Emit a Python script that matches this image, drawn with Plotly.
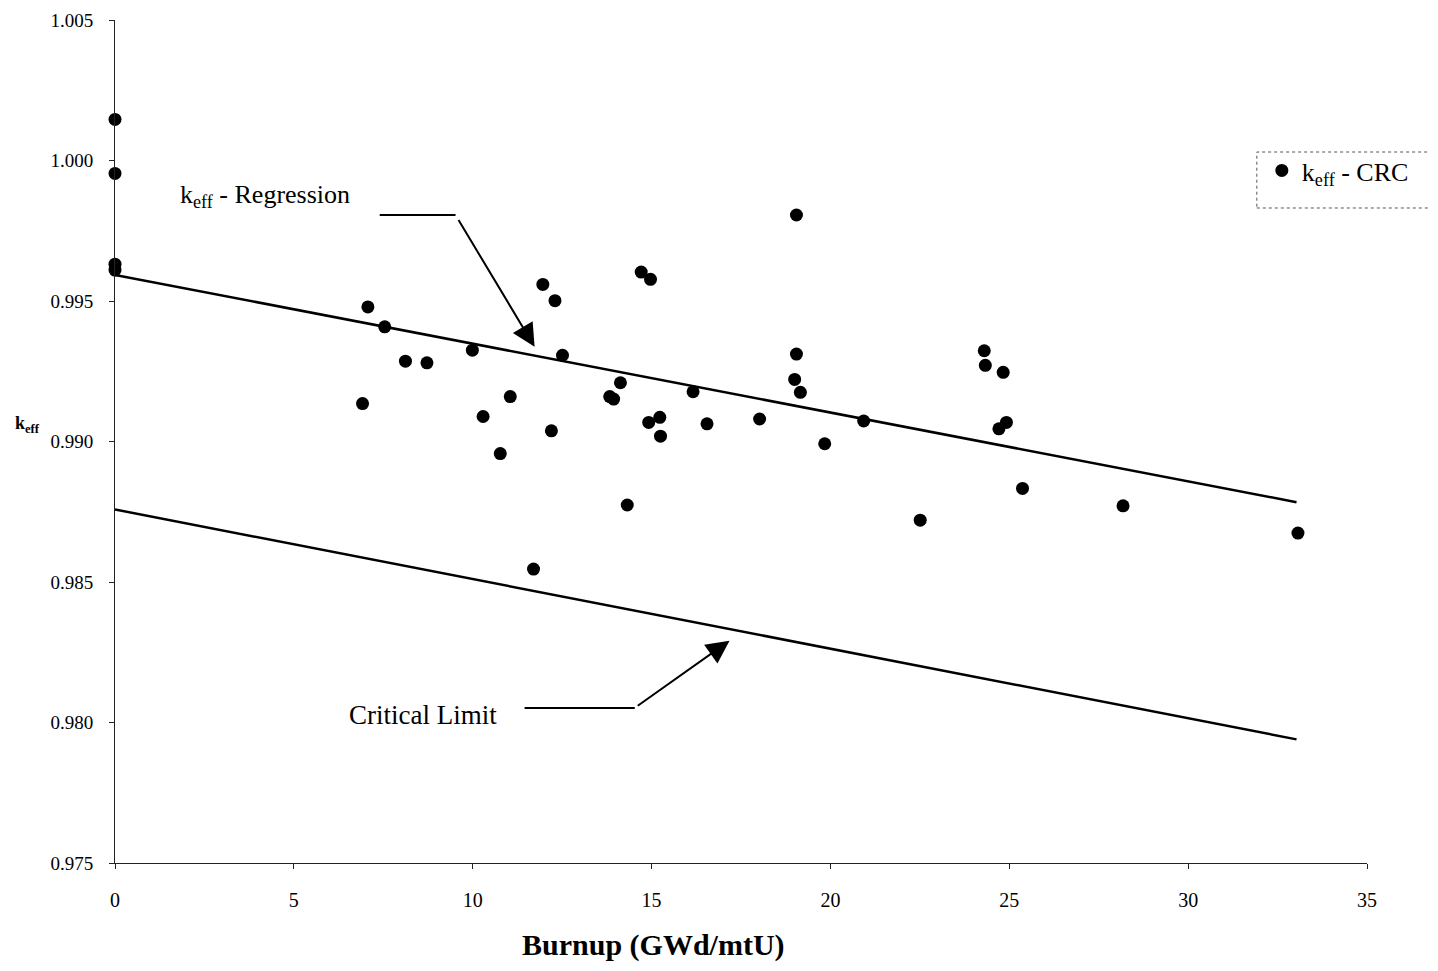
import plotly.graph_objects as go

# ---- data ----
burnup_crc = [0.0, 0.0, 0.0, 0.0, 6.92, 7.07, 7.54, 8.12, 8.72, 9.99,
              10.29, 11.05, 10.77, 11.70, 11.96, 12.30, 12.51, 12.20, 13.83, 13.94,
              14.13, 14.32, 14.71, 14.97, 14.92, 15.23, 15.25, 16.16, 16.55, 18.02,
              19.05, 19.05, 19.00, 19.16, 19.84, 20.93, 22.51, 24.30, 24.33, 24.83,
              24.71, 24.92, 25.37, 28.18, 33.07]
keff_crc = [1.00146, 0.99954, 0.99631, 0.99610, 0.99135, 0.99479, 0.99408, 0.99286, 0.99280, 0.99325,
            0.99089, 0.99160, 0.98957, 0.98546, 0.99559, 0.99501, 0.99307, 0.99038, 0.99160, 0.99151,
            0.99209, 0.98774, 0.99603, 0.99577, 0.99068, 0.99086, 0.99019, 0.99177, 0.99063, 0.99080,
            0.99806, 0.99311, 0.99221, 0.99175, 0.98992, 0.99073, 0.98720, 0.99323, 0.99271, 0.99246,
            0.99045, 0.99068, 0.98833, 0.98771, 0.98674]

line_x = [0.0, 33.03]
regression_y = [0.99593, 0.98784]
critical_limit_y = [0.98758, 0.97940]

x_ticks = [0, 5, 10, 15, 20, 25, 30, 35]
y_ticks = [0.975, 0.980, 0.985, 0.990, 0.995, 1.000, 1.005]
y_tick_text = ["0.975", "0.980", "0.985", "0.990", "0.995", "1.000", "1.005"]

SERIF = "Liberation Serif, Times New Roman, serif"

fig = go.Figure()

fig.add_trace(go.Scatter(
    x=line_x, y=regression_y, mode="lines",
    line=dict(color="black", width=2.5), showlegend=False, hoverinfo="skip"))
fig.add_trace(go.Scatter(
    x=line_x, y=critical_limit_y, mode="lines",
    line=dict(color="black", width=2.5), showlegend=False, hoverinfo="skip"))
fig.add_trace(go.Scatter(
    x=burnup_crc, y=keff_crc, mode="markers",
    marker=dict(color="black", size=13, line=dict(width=0)),
    name="k<sub>eff</sub> - CRC", cliponaxis=False))

# text labels of the two lines
fig.add_annotation(x=1.75, y=0.99872, xref="x", yref="y",
                   text="k<sub>eff</sub> - Regression", showarrow=False,
                   xanchor="left", yanchor="middle",
                   font=dict(family=SERIF, size=26, color="black"))
fig.add_annotation(x=6.48, y=0.98025, xref="x", yref="y",
                   text="Critical Limit", showarrow=False,
                   xanchor="left", yanchor="middle",
                   font=dict(family=SERIF, size=27, color="black"))

# bent arrows: horizontal leader + diagonal arrow
arrow_lead = [
    dict(x0=7.40, x1=9.52, y=0.99806, tip_x=11.73, tip_y=0.99337),
    dict(x0=11.45, x1=14.53, y=0.98052, tip_x=17.18, tip_y=0.98291),
]
for a in arrow_lead:
    fig.add_shape(type="line", xref="x", yref="y", x0=a["x0"], x1=a["x1"],
                  y0=a["y"], y1=a["y"], line=dict(color="black", width=2))
    fig.add_annotation(x=a["tip_x"], y=a["tip_y"], ax=a["x1"], ay=a["y"],
                       xref="x", yref="y", axref="x", ayref="y", text=" ",
                       showarrow=True, arrowhead=2, arrowsize=2.3, arrowwidth=2,
                       arrowcolor="black", standoff=0, startstandoff=0)

# y-axis title "keff" (horizontal, bold)
fig.add_annotation(
    x=-0.0815, y=0.9906, xref="paper", yref="y", xanchor="left", yanchor="middle",
    text="<b>k<sub>eff</sub></b>", showarrow=False,
    font=dict(family=SERIF, size=18, color="black"))

# x-axis title (off-centre as in the reference)
fig.add_annotation(
    x=15.06, y=-0.0973, xref="x", yref="paper", xanchor="center", yanchor="middle",
    text="<b>Burnup (GWd/mtU)</b>", showarrow=False,
    font=dict(family=SERIF, size=30, color="black"))

# legend frame (extends past the plot area like the reference)
fig.add_shape(type="rect", xref="paper", yref="paper",
              x0=0.912, x1=1.0559, y0=0.7770, y1=0.8434,
              line=dict(color="#555", width=1, dash="dot"), fillcolor="rgba(0,0,0,0)")

fig.update_xaxes(
    range=[0, 35], tickvals=x_ticks, ticktext=[str(t) for t in x_ticks],
    showline=True, linecolor="#222", linewidth=1, mirror=False,
    ticks="outside", ticklen=5, tickcolor="#222", ticklabelstandoff=14,
    showgrid=False, zeroline=False, ticklabeloverflow="allow",
    tickfont=dict(family=SERIF, size=20, color="black"))
fig.update_yaxes(
    range=[0.975, 1.005], tickvals=y_ticks, ticktext=y_tick_text,
    showline=True, linecolor="#222", linewidth=1, mirror=False,
    ticks="outside", ticklen=5, tickcolor="#222", ticklabelstandoff=12,
    showgrid=False, zeroline=False, ticklabeloverflow="allow",
    tickfont=dict(family=SERIF, size=19, color="black"))

fig.update_layout(
    width=1430, height=963,
    margin=dict(l=107, r=71, t=12, b=108, autoexpand=False),
    paper_bgcolor="white", plot_bgcolor="white",
    font=dict(family=SERIF, color="black"),
    showlegend=True,
    legend=dict(x=0.916, y=0.8493, xanchor="left", yanchor="top",
                borderwidth=0, bgcolor="rgba(0,0,0,0)",
                font=dict(family=SERIF, size=26, color="black"),
                itemwidth=30, entrywidth=150),
)

fig.write_html("out.html")
